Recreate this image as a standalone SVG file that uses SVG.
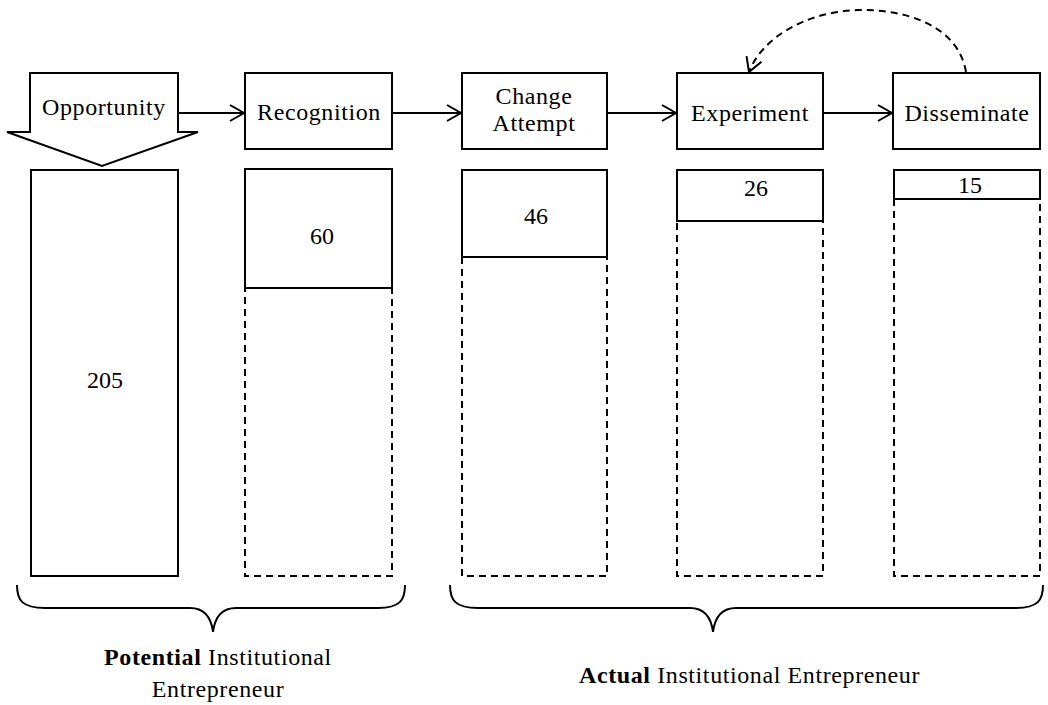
<svg xmlns="http://www.w3.org/2000/svg" width="1048" height="705" viewBox="0 0 1048 705">
  <style>
    .box { fill: #fff; stroke: #000; stroke-width: 2; }
    .dash { fill: none; stroke: #000; stroke-width: 2; stroke-dasharray: 7 5; }
    .line { fill: none; stroke: #000; stroke-width: 2; }
    .lbl { font-family: "Liberation Serif", "Times New Roman", serif; font-size: 24px; letter-spacing: 0.6px; fill: #000; text-anchor: middle; }
    .num { font-family: "Liberation Serif", "Times New Roman", serif; font-size: 24px; fill: #000; text-anchor: middle; }
    .cap { font-family: "Liberation Serif", "Times New Roman", serif; font-size: 24px; letter-spacing: 0.6px; fill: #000; }
  </style>
  <defs>
    <marker id="vee" markerWidth="18" markerHeight="18" refX="16" refY="9" orient="auto" markerUnits="userSpaceOnUse">
      <path d="M2,1 L16,9 L2,17" fill="none" stroke="#000" stroke-width="2"/>
    </marker>
  </defs>
  <rect width="1048" height="705" fill="#fff"/>

  <!-- connectors -->
  <g id="connectors">
    <line class="line" x1="178" y1="113" x2="244" y2="113" marker-end="url(#vee)"/>
    <line class="line" x1="392" y1="113" x2="461" y2="113" marker-end="url(#vee)"/>
    <line class="line" x1="607" y1="113" x2="676" y2="113" marker-end="url(#vee)"/>
    <line class="line" x1="823" y1="113" x2="892" y2="113" marker-end="url(#vee)"/>
    <path class="dash" d="M966,72 C958,25 905,9 858,10 C805,12 762,38 749,72" marker-end="url(#vee)"/>
  </g>

  <!-- stage headers -->
  <g id="opportunity">
    <path class="box" d="M30,73 L178,73 L178,132 L198,132 L102,166 L7,132 L30,132 Z"/>
    <text class="lbl" x="104" y="115">Opportunity</text>
  </g>
  <g id="recognition">
    <rect class="box" x="245" y="73" width="147" height="76"/>
    <text class="lbl" x="319" y="120">Recognition</text>
  </g>
  <g id="change-attempt">
    <rect class="box" x="462" y="73" width="145" height="76"/>
    <text class="lbl" x="534" y="104">Change</text>
    <text class="lbl" x="534" y="131">Attempt</text>
  </g>
  <g id="experiment">
    <rect class="box" x="677" y="73" width="146" height="76"/>
    <text class="lbl" x="750" y="121">Experiment</text>
  </g>
  <g id="disseminate">
    <rect class="box" x="893" y="73" width="147" height="76"/>
    <text class="lbl" x="967" y="121">Disseminate</text>
  </g>

  <!-- count columns -->
  <g id="col-opportunity">
    <rect class="box" x="31" y="170" width="147" height="406"/>
    <text class="num" x="105" y="388">205</text>
  </g>
  <g id="col-recognition">
    <rect class="dash" x="245" y="170" width="147" height="406"/>
    <rect class="box" x="245" y="169" width="147" height="119"/>
    <text class="num" x="322" y="244">60</text>
  </g>
  <g id="col-change-attempt">
    <rect class="dash" x="462" y="170" width="145" height="406"/>
    <rect class="box" x="462" y="170" width="145" height="87"/>
    <text class="num" x="536" y="224">46</text>
  </g>
  <g id="col-experiment">
    <rect class="dash" x="677" y="170" width="146" height="406"/>
    <rect class="box" x="677" y="170" width="146" height="51"/>
    <text class="num" x="756" y="196">26</text>
  </g>
  <g id="col-disseminate">
    <rect class="dash" x="894" y="170" width="146" height="406"/>
    <rect class="box" x="894" y="170" width="146" height="29"/>
    <text class="num" x="970" y="193">15</text>
  </g>

  <!-- braces and captions -->
  <g id="potential">
    <path class="line" d="M17,585 C17,600 22,608 45,608 L190,608 C204,608 211,616 213,632 C215,616 222,608 236,608 L378,608 C400,608 405,600 405,585"/>
    <text class="cap" x="218" y="665" text-anchor="middle"><tspan font-weight="bold">Potential</tspan> Institutional</text>
    <text class="cap" x="218" y="697" text-anchor="middle">Entrepreneur</text>
  </g>
  <g id="actual">
    <path class="line" d="M450,585 C450,600 455,608 478,608 L690,608 C704,608 711,616 713,632 C715,616 722,608 736,608 L1016,608 C1038,608 1043,600 1043,585"/>
    <text class="cap" x="579" y="683"><tspan font-weight="bold">Actual</tspan> Institutional Entrepreneur</text>
  </g>
</svg>
